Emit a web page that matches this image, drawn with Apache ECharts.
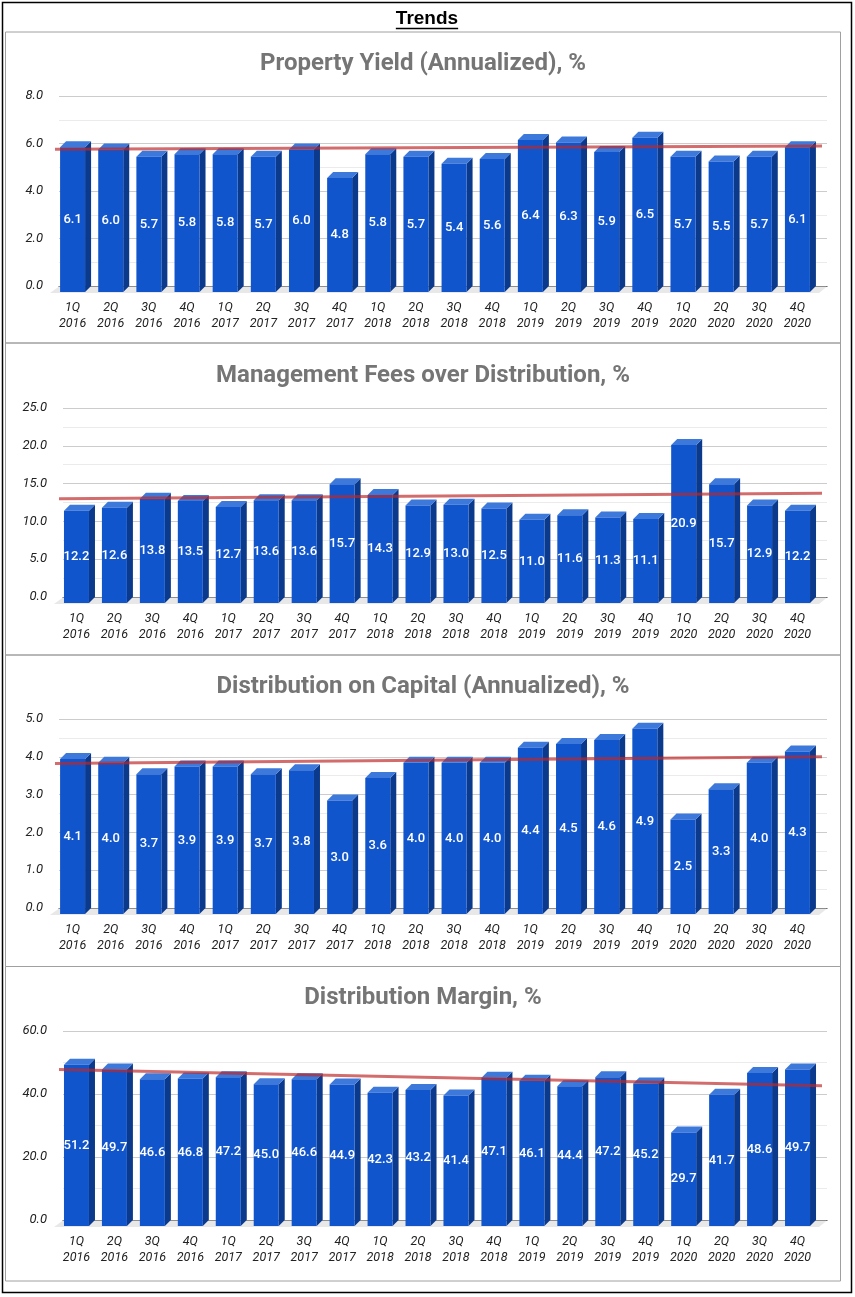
<!DOCTYPE html>
<html>
<head>
<meta charset="utf-8">
<title>Trends</title>
<script src="https://cdn.jsdelivr.net/npm/echarts@6/dist/echarts.min.js"></script>
<style>
  html, body { margin: 0; padding: 0; background: #fff; }
  #chart { width: 855px; height: 1297px; }
</style>
</head>
<body>
<div id="chart"></div>
<script>
// Data
var categories = ['1Q\n2016', '2Q\n2016', '3Q\n2016', '4Q\n2016',
                  '1Q\n2017', '2Q\n2017', '3Q\n2017', '4Q\n2017',
                  '1Q\n2018', '2Q\n2018', '3Q\n2018', '4Q\n2018',
                  '1Q\n2019', '2Q\n2019', '3Q\n2019', '4Q\n2019',
                  '1Q\n2020', '2Q\n2020', '3Q\n2020', '4Q\n2020'];

var chartTitles = ['Property Yield (Annualized), %',
                   'Management Fees over Distribution, %',
                   'Distribution on Capital (Annualized), %',
                   'Distribution Margin, %'];

var yieldValues  = [6.1, 6.0, 5.7, 5.8, 5.8, 5.7, 6.0, 4.8, 5.8, 5.7, 5.4, 5.6, 6.4, 6.3, 5.9, 6.5, 5.7, 5.5, 5.7, 6.1];
var feesValues   = [12.2, 12.6, 13.8, 13.5, 12.7, 13.6, 13.6, 15.7, 14.3, 12.9, 13.0, 12.5, 11.0, 11.6, 11.3, 11.1, 20.9, 15.7, 12.9, 12.2];
var capitalValues = [4.1, 4.0, 3.7, 3.9, 3.9, 3.7, 3.8, 3.0, 3.6, 4.0, 4.0, 4.0, 4.4, 4.5, 4.6, 4.9, 2.5, 3.3, 4.0, 4.3];
var marginValues = [51.2, 49.7, 46.6, 46.8, 47.2, 45.0, 46.6, 44.9, 42.3, 43.2, 41.4, 47.1, 46.1, 44.4, 47.2, 45.2, 29.7, 41.7, 48.6, 49.7];

var yMaxes = [8, 25, 5, 60];
var ySteps = [2, 5, 1, 20];

var allValues = [yieldValues, feesValues, capitalValues, marginValues];

// Layout of the four panels (pixels)
var panels = [
    {top: 32,    bottom: 343,    yTop: 96,   yBot: 286, titleY: 64,  backLeft: 59, barLeft: 57, barWidth: 763},
    {top: 343,   bottom: 655,    yTop: 408,  yBot: 597, titleY: 376, backLeft: 63, barLeft: 61, barWidth: 759},
    {top: 655,   bottom: 966.5,  yTop: 719,  yBot: 908, titleY: 687, backLeft: 59, barLeft: 57, barWidth: 763},
    {top: 966.5, bottom: 1281,   yTop: 1031, yBot: 1220, titleY: 998, backLeft: 63, barLeft: 61, barWidth: 759}
];
var backRight = 827;
var depth = 6;

var FRONT = '#1155cc', SIDE = '#0b3a8c', TOP = '#3d79da';

// least squares trend line over the category index
function trendLine(vals) {
    var n = vals.length, sx = 0, sy = 0, sxy = 0, sxx = 0;
    for (var i = 0; i < n; i++) {
        sx += i; sy += vals[i]; sxy += i * vals[i]; sxx += i * i;
    }
    var b = (n * sxy - sx * sy) / (n * sxx - sx * sx);
    var a = (sy - b * sx) / n;
    return [[-0.7, a - 0.7 * b], [19.65, a + 19.65 * b]];
}

function makeRender(k) {
    var pan = panels[k];
    return function (params, api) {
        var i = api.value(0), v = api.value(1);
        var p = api.coord([i, v]);
        var p0 = api.coord([i, 0]);
        var x0 = p[0] - 16, x1 = p[0] + 9;
        var yt = p[1], yb = p0[1];
        var children = [];
        if (params.dataIndex === 0) {
            children.push({
                type: 'polygon',
                shape: {points: [[pan.backLeft, yb + 0.5], [backRight, yb + 0.5], [backRight - 8, yb + 7], [pan.backLeft - 9, yb + 7]]},
                style: {fill: '#e8e8e8'}
            });
        }
        children.push({
            type: 'polygon',
            shape: {points: [[x1, yt + depth], [x1 + depth, yt], [x1 + depth, yb], [x1, yb + depth]]},
            style: {fill: SIDE}
        });
        children.push({
            type: 'polygon',
            shape: {points: [[x0, yt + depth], [x0 + depth, yt], [x1 + depth, yt], [x1, yt + depth]]},
            style: {fill: TOP}
        });
        children.push({
            type: 'rect',
            shape: {x: x0, y: yt + depth, width: x1 - x0, height: yb - yt},
            style: {fill: FRONT}
        });
        children.push({
            type: 'text',
            style: {
                text: v.toFixed(1),
                x: (x0 + x1) / 2,
                y: (yt + yb) / 2 + depth,
                fill: '#fff',
                font: '500 13px Roboto',
                align: 'center',
                verticalAlign: 'middle'
            }
        });
        return {type: 'group', children: children};
    };
}

var grids = [], xAxes = [], yAxes = [], series = [], graphics = [];

panels.forEach(function (pan, k) {
    var h = pan.yBot - pan.yTop;
    // back wall: gridlines, y labels, base line
    grids.push({left: pan.backLeft, top: pan.yTop, width: backRight - pan.backLeft, height: h});
    // front: bars and category labels
    grids.push({left: pan.barLeft, top: pan.yTop, width: pan.barWidth, height: h});

    xAxes.push({
        type: 'value', gridIndex: 2 * k, min: 0, max: 1,
        axisLine: {show: true, onZero: false, lineStyle: {color: '#333', width: 1}},
        axisTick: {show: false}, axisLabel: {show: false}, splitLine: {show: false}
    });
    xAxes.push({
        type: 'category', gridIndex: 2 * k + 1, data: categories,
        axisLine: {show: false}, axisTick: {show: false},
        axisLabel: {
            interval: 0, margin: 14, color: '#222', fontStyle: 'italic',
            fontFamily: 'Roboto', fontSize: 12.5, lineHeight: 16,
            padding: [0, 7, 0, 0]
        }
    });
    xAxes.push({
        type: 'value', gridIndex: 2 * k + 1, min: -0.5, max: 19.5, show: false
    });

    yAxes.push({
        type: 'value', gridIndex: 2 * k, min: 0, max: yMaxes[k], interval: ySteps[k],
        splitNumber: 2,
        axisLine: {show: false}, axisTick: {show: false},
        axisLabel: {
            margin: 16, color: '#222', fontStyle: 'italic', fontFamily: 'Roboto', fontSize: 13,
            formatter: function (val) { return val.toFixed(1); }
        },
        splitLine: {lineStyle: {color: '#cccccc'}},
        minorTick: {show: false, splitNumber: 2},
        minorSplitLine: {show: true, lineStyle: {color: '#ebebeb'}}
    });
    yAxes.push({
        type: 'value', gridIndex: 2 * k + 1, min: 0, max: yMaxes[k], show: false
    });

    series.push({
        type: 'custom',
        xAxisIndex: 3 * k + 1,
        yAxisIndex: 2 * k + 1,
        renderItem: makeRender(k),
        clip: false,
        data: allValues[k].map(function (v, i) { return [i, v]; })
    });
    series.push({
        type: 'line',
        xAxisIndex: 3 * k + 2,
        yAxisIndex: 2 * k + 1,
        data: trendLine(allValues[k]),
        symbol: 'none',
        clip: false,
        silent: true,
        z: 5,
        lineStyle: {color: 'rgba(190, 40, 40, 0.68)', width: 3}
    });

    graphics.push({
        type: 'rect',
        shape: {x: 5.5, y: pan.top, width: 835, height: pan.bottom - pan.top},
        style: {fill: null, stroke: '#a0a0a0', lineWidth: 1},
        silent: true
    });
    graphics.push({
        type: 'text',
        style: {
            text: chartTitles[k], x: 423, y: pan.titleY,
            font: 'bold 24px Roboto', fill: '#757575',
            align: 'center', verticalAlign: 'middle'
        }
    });
});

// Page title with underline
var titleFont = 'bold 19px "Liberation Sans", Arial, sans-serif';
var ctx = document.createElement('canvas').getContext('2d');
ctx.font = titleFont;
var tw = ctx.measureText('Trends').width;
graphics.push({
    type: 'text',
    style: {text: 'Trends', x: 427, y: 18.5, font: titleFont, fill: '#000', align: 'center', verticalAlign: 'middle'}
});
graphics.push({
    type: 'line',
    shape: {x1: 427 - tw / 2, y1: 28.5, x2: 427 + tw / 2, y2: 28.5},
    style: {stroke: '#000', lineWidth: 1.5}
});
graphics.push({
    type: 'rect',
    shape: {x: 2.5, y: 2.5, width: 849, height: 1290},
    style: {fill: null, stroke: '#000', lineWidth: 1.5},
    silent: true
});

var myChart = echarts.init(document.getElementById('chart'), null, {renderer: 'canvas'});
var option = {
    animation: false,
    backgroundColor: '#fff',
    grid: grids,
    xAxis: xAxes,
    yAxis: yAxes,
    series: series,
    graphic: graphics
};
myChart.setOption(option);
</script>
</body>
</html>
